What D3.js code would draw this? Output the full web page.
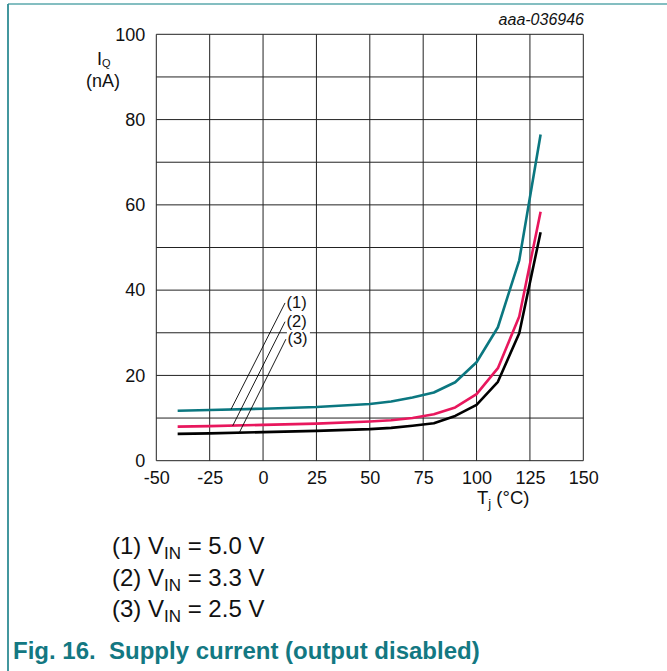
<!DOCTYPE html>
<html>
<head>
<meta charset="utf-8">
<script src="https://cdn.jsdelivr.net/npm/d3@7"></script>
<style>
  html, body { margin: 0; padding: 0; background: #fff; }
  svg { display: block; font-family: "Liberation Sans", Arial, sans-serif; }
</style>
</head>
<body>
<svg id="chart" width="667" height="671"></svg>
<script>
// ---- data ----
const temps = [-40, -25, 0, 25, 50, 60, 70, 80, 90, 100, 110, 120, 130];
const vin50 = [11.7, 11.9, 12.2, 12.6, 13.3, 13.9, 14.8, 16.0, 18.4, 23.1, 31.3, 47.0, 76.5];
const vin33 = [8.0, 8.1, 8.4, 8.7, 9.2, 9.5, 10.0, 10.9, 12.5, 15.6, 21.7, 33.8, 58.4];
const vin25 = [6.3, 6.4, 6.7, 7.0, 7.4, 7.7, 8.2, 8.8, 10.5, 13.1, 18.5, 29.9, 53.6];
const seriesNames = ["(1)", "(2)", "(3)"];
const seriesColors = ["#0b7780", "#e8175d", "#000000"];
const xTicks = [-50, -25, 0, 25, 50, 75, 100, 125, 150];
const yTicks = [0, 20, 40, 60, 80, 100];
const yGrid = [0, 10, 20, 30, 40, 50, 60, 70, 80, 90, 100];
// callout anchors in data units: [label t, label v, curve t, curve v]
const callouts = [[10.3, 37.0, -15, 12.05], [10.3, 32.6, -14.2, 8.2], [10.7, 28.5, -11.1, 6.6]];
const legendLines = [["(1) V", "IN", " = 5.0 V"], ["(2) V", "IN", " = 3.3 V"], ["(3) V", "IN", " = 2.5 V"]];

const svg = d3.select("#chart");
const x = d3.scaleLinear().domain([-50, 150]).range([156.3, 583.3]);
const y = d3.scaleLinear().domain([0, 100]).range([460.7, 34.3]);

// page border lines
svg.append("line").attr("x1", 8).attr("x2", 667).attr("y1", 4).attr("y2", 4)
  .attr("stroke", "#5ba8ad").attr("stroke-width", 1.5);
svg.append("line").attr("x1", 8).attr("x2", 8).attr("y1", 4).attr("y2", 671)
  .attr("stroke", "#2e8c94").attr("stroke-width", 1.8);

// grid
const g = svg.append("g");
g.selectAll(".vg").data(xTicks).enter().append("line")
  .attr("x1", d => x(d)).attr("x2", d => x(d)).attr("y1", y(0)).attr("y2", y(100))
  .attr("stroke", "#222").attr("stroke-width", 1);
g.selectAll(".hg").data(yGrid).enter().append("line")
  .attr("x1", x(-50)).attr("x2", x(150)).attr("y1", d => y(d)).attr("y2", d => y(d))
  .attr("stroke", "#222").attr("stroke-width", 1);

// axes labels via d3 axes
const xAxis = d3.axisBottom(x).tickValues(xTicks).tickSize(0).tickPadding(11).tickFormat(d => String(d));
const yAxis = d3.axisLeft(y).tickValues(yTicks).tickSize(0).tickPadding(11).tickFormat(d => String(d));
const xa = svg.append("g").attr("transform", `translate(0,${y(0)})`).call(xAxis);
const ya = svg.append("g").attr("transform", `translate(${x(-50)},0)`).call(yAxis);
[xa, ya].forEach(a => {
  a.select(".domain").remove();
  a.selectAll("text").attr("font-size", 18).attr("fill", "#111")
    .attr("font-family", "'Liberation Sans', Arial, sans-serif");
});

// curves
const allSeries = [vin50, vin33, vin25];
const line = d3.line().x((d, i) => x(temps[i])).y(d => y(d));
[2, 1, 0].forEach(k => {
  svg.append("path").datum(allSeries[k]).attr("d", line)
    .attr("fill", "none").attr("stroke", seriesColors[k]).attr("stroke-width", 2.6)
    .attr("stroke-linejoin", "round");
});

// callouts
callouts.forEach((c, i) => {
  svg.append("line").attr("x1", x(c[0])).attr("y1", y(c[1])).attr("x2", x(c[2])).attr("y2", y(c[3]))
    .attr("stroke", "#000").attr("stroke-width", 0.9);
  svg.append("rect").attr("x", x(c[0]) + 1).attr("y", y(c[1]) - 9).attr("width", 23).attr("height", 17)
    .attr("fill", "#fff");
  svg.append("text").attr("x", x(c[0]) + 1.5).attr("y", y(c[1]) + 5)
    .attr("font-size", 16.5).attr("fill", "#111").text(seriesNames[i]);
});

// y label
const yl = svg.append("text").attr("x", 97).attr("y", 65).attr("font-size", 18).attr("fill", "#111");
yl.append("tspan").text("I");
yl.append("tspan").attr("font-size", 11).attr("dy", 2).text("Q");
svg.append("text").attr("x", 103).attr("y", 87).attr("font-size", 18).attr("text-anchor", "middle")
  .attr("fill", "#111").text("(nA)");

// x label
const xl = svg.append("text").attr("x", 477).attr("y", 503.5).attr("font-size", 18.5).attr("fill", "#111");
xl.append("tspan").text("T");
xl.append("tspan").attr("font-size", 13).attr("dy", 4).text("j");
xl.append("tspan").attr("dy", -4).text(" (°C)");

// figure id
svg.append("text").attr("x", 584).attr("y", 25).attr("font-size", 16).attr("font-style", "italic")
  .attr("text-anchor", "end").attr("fill", "#111").text("aaa-036946");

// legend
legendLines.forEach((l, i) => {
  const t = svg.append("text").attr("x", 112).attr("y", 554 + i * 31.5).attr("font-size", 24).attr("fill", "#111");
  t.append("tspan").text(l[0]);
  t.append("tspan").attr("font-size", 17).attr("dy", 5).text(l[1]);
  t.append("tspan").attr("dy", -5).text(l[2]);
});

// caption
svg.append("text").attr("x", 13).attr("y", 659).attr("font-size", 24).attr("font-weight", "bold")
  .attr("fill", "#137882").attr("xml:space", "preserve").style("white-space", "pre")
  .text("Fig. 16.  Supply current (output disabled)");
</script>
</body>
</html>
